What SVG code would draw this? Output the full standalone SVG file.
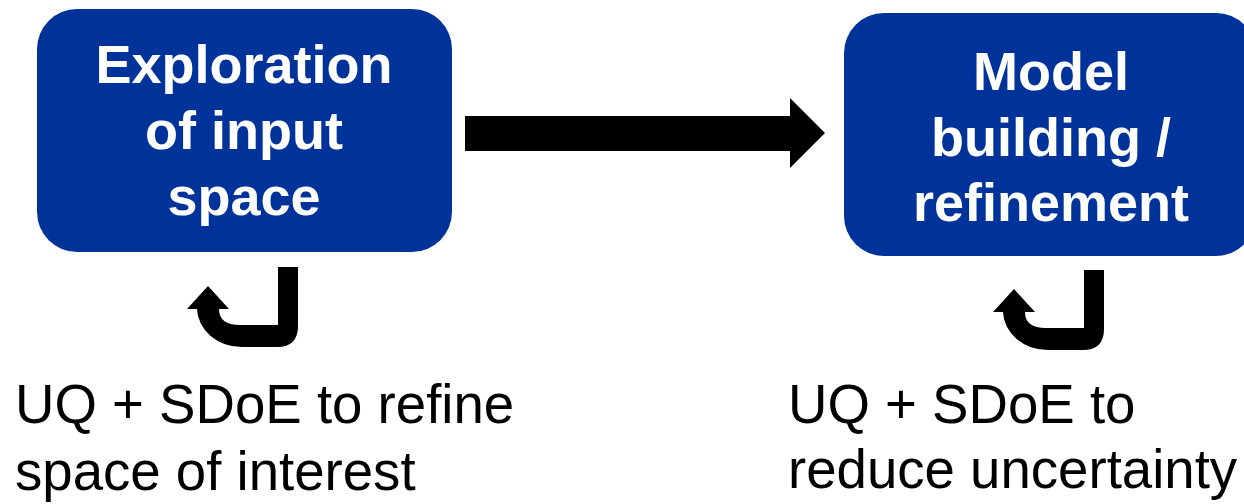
<svg xmlns="http://www.w3.org/2000/svg" width="1244" height="504" viewBox="0 0 1244 504">
<style>
.box{fill:#003399;}
.bt{font-family:"Liberation Sans",Arial,sans-serif;font-weight:bold;font-size:54px;fill:#ffffff;text-anchor:middle;}
.lt{font-family:"Liberation Sans",Arial,sans-serif;font-size:54.6px;fill:#000000;}
.arr{fill:#000000;}
</style>
<defs>
<path id="uturn" d="M278,267 H298 V326 Q298,347 277,347 H242 A45,39 0 0 1 197,309 H187 L208,286 L229,309 H219 Q219,325 240,325 H278 Z"/>
</defs>
<rect width="1244" height="504" fill="#ffffff"/>
<g id="node-exploration">
<rect class="box" x="37" y="9" width="415" height="243" rx="40" ry="40"/>
<text class="bt" x="244" y="83">Exploration</text>
<text class="bt" x="244" y="149">of input</text>
<text class="bt" x="244" y="215">space</text>
</g>
<g id="node-model">
<rect class="box" x="844" y="13" width="412" height="243" rx="40" ry="40"/>
<text class="bt" x="1051" y="90">Model</text>
<text class="bt" x="1051" y="156">building /</text>
<text class="bt" x="1051" y="221">refinement</text>
</g>
<g id="connectors">
<path class="arr" d="M465,116 H790 V98 L825,133 L790,168 V151 H465 Z"/>
<use href="#uturn" class="arr"/>
<use href="#uturn" class="arr" transform="translate(806,3)"/>
</g>
<g id="label-left">
<text class="lt" x="15" y="423">UQ + SDoE to refine</text>
<text class="lt" x="15" y="490">space of interest</text>
</g>
<g id="label-right">
<text class="lt" x="788" y="423">UQ + SDoE to</text>
<text class="lt" x="788" y="488">reduce uncertainty</text>
</g>
</svg>
